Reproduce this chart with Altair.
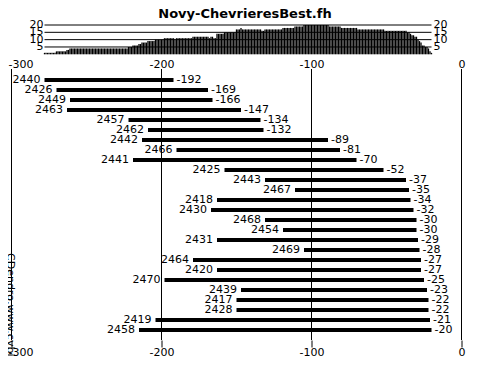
import altair as alt
import pandas as pd

title = "Novy-ChevrieresBest.fh"
credit = "CDendro,www.cybis.se"
ids = ["2440", "2426", "2449", "2463", "2457", "2462", "2442", "2466", "2441", "2425",
       "2443", "2467", "2418", "2430", "2468", "2454", "2431", "2469", "2464", "2420",
       "2470", "2439", "2417", "2428", "2419", "2458"]
starts = [-278, -270, -261, -263, -222, -209, -213, -190, -219, -158,
          -131, -111, -163, -167, -131, -119, -163, -105, -179, -163,
          -198, -147, -150, -150, -204, -215]
ends = [-192, -169, -166, -147, -134, -132, -89, -81, -70, -52,
        -37, -35, -34, -32, -30, -30, -29, -28, -27, -27,
        -25, -23, -22, -22, -21, -20]
x_ticks = [-300, -200, -100, 0]
depth_levels = [5, 10, 15, 20]

FONT = "DejaVu Sans"

rows = pd.DataFrame({"id": ids, "start": starts, "end": ends,
                     "end_lab": [str(e) for e in ends]})
first, last = min(starts), max(ends)
years = list(range(first, last + 1))
counts = [sum(1 for s, e in zip(starts, ends) if s <= y <= e) for y in years]
hist_df = pd.DataFrame({"year": years, "count": counts})
lev_df = pd.DataFrame({"level": depth_levels, "x0": first, "x1": last,
                       "lab": [str(v) for v in depth_levels]})
tick_df = pd.DataFrame({"t": x_ticks})
credit_df = pd.DataFrame({"txt": [credit]})

xs = alt.Scale(domain=[-300, 0], nice=False, zero=False)
ys_h = alt.Scale(domain=[0, 20], range=[29.3, 0], nice=False, zero=False)
ys_r = alt.Scale(type="point", domain=ids, range=[50, 310], padding=0.5)

cond_align = alt.condition("datum.value == -300", alt.value("left"), alt.value("center"))
cond_off = alt.condition("datum.value == -300", alt.value(-3.5), alt.value(0))
lab_expr = "toString(datum.value)"

hist = alt.Chart(hist_df).mark_rule(color="black", strokeWidth=1.3).encode(
    x=alt.X("year:Q", scale=xs, axis=None),
    y=alt.Y("count:Q", scale=ys_h, axis=None),
    y2=alt.datum(0),
)
hgrid = alt.Chart(lev_df).mark_rule(color="black", strokeWidth=1).encode(
    x=alt.X("x0:Q", scale=xs, axis=None),
    x2="x1:Q",
    y=alt.Y("level:Q", scale=ys_h, axis=None),
)
hlab_l = alt.Chart(lev_df).mark_text(font=FONT, fontSize=11, align="right", baseline="middle", dx=-1, color="black").encode(
    x=alt.X("x0:Q", scale=xs, axis=None),
    y=alt.Y("level:Q", scale=ys_h, axis=None),
    text="lab:N",
)
hlab_r = alt.Chart(lev_df).mark_text(font=FONT, fontSize=11, align="left", baseline="middle", dx=2, color="black").encode(
    x=alt.X("x1:Q", scale=xs, axis=None),
    y=alt.Y("level:Q", scale=ys_h, axis=None),
    text="lab:N",
)
hist_layer = alt.layer(hist, hgrid, hlab_l, hlab_r)

grid = alt.Chart(tick_df).mark_rule(color="black", strokeWidth=1).encode(
    x=alt.X("t:Q", scale=xs, axis=alt.Axis(orient="top", offset=-44, values=x_ticks, ticks=False,
                                             domain=False, grid=False, labelPadding=0, title=None,
                                             labelExpr=lab_expr,
                                             labelAlign=cond_align, labelOffset=cond_off)),
    y=alt.value(44),
    y2=alt.value(315),
)
bars = alt.Chart(rows).mark_rule(color="black", strokeWidth=4, strokeCap="butt").encode(
    x=alt.X("start:Q", scale=xs, axis=alt.Axis(orient="bottom", values=x_ticks, tickSize=7,
                                                 domain=False, grid=False, labelPadding=8.5,
                                                 labelBaseline="alphabetic", title=None,
                                                 labelExpr=lab_expr,
                                                 labelAlign=cond_align, labelOffset=cond_off)),
    x2="end:Q",
    y=alt.Y("id:N", scale=ys_r, axis=None, sort=None),
)
lab_l = alt.Chart(rows).mark_text(font=FONT, fontSize=11, align="right", baseline="middle", dx=-4, color="black").encode(
    x=alt.X("start:Q", scale=xs, axis=None),
    y=alt.Y("id:N", scale=ys_r, axis=None, sort=None),
    text="id:N",
)
lab_r = alt.Chart(rows).mark_text(font=FONT, fontSize=11, align="left", baseline="middle", dx=3, color="black").encode(
    x=alt.X("end:Q", scale=xs, axis=None),
    y=alt.Y("id:N", scale=ys_r, axis=None, sort=None),
    text="end_lab:N",
)
credit_mark = alt.Chart(credit_df).mark_text(font=FONT, fontSize=11, align="left", baseline="middle",
                                             angle=90, color="black").encode(
    x=alt.value(-1.5),
    y=alt.value(228),
    text="txt:N",
)
main_layer = alt.layer(grid, bars, lab_l, lab_r, credit_mark).resolve_axis(x="independent")

chart = alt.layer(hist_layer, main_layer).resolve_scale(y="independent").resolve_axis(
    x="independent").properties(
    width=450,
    height=315,
    padding={"left": 3.5, "top": 17, "right": 19, "bottom": 17},
    autosize=alt.AutoSizeParams(type="none"),
    title=alt.TitleParams(title, font=FONT, fontSize=13, fontWeight="bold", anchor="middle",
                          dx=8.5, offset=-2, color="black"),
).configure_view(stroke=None).configure_axis(
    labelFont=FONT, labelFontSize=11, labelColor="black", tickColor="black", tickWidth=1
)

chart.save("out.html", embed_options={"renderer": "svg", "actions": False})
